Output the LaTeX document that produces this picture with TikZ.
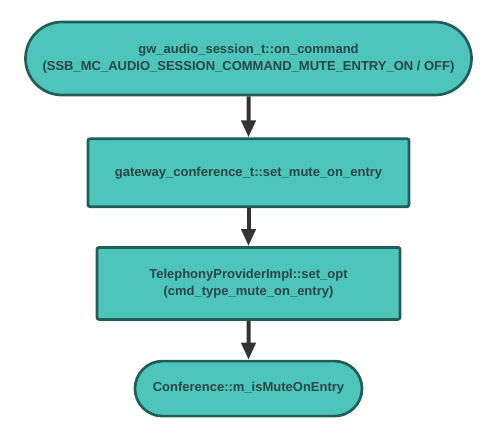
\documentclass[tikz,border=0pt]{standalone}
\usepackage{fontspec}
\setmainfont{Liberation Sans}
\usetikzlibrary{arrows.meta, positioning, shapes, shapes.misc}
\definecolor{boxfill}{HTML}{4EC5BA}
\definecolor{boxline}{HTML}{225E59}
\definecolor{boxtext}{HTML}{2A4746}
\definecolor{flowline}{HTML}{333333}
\tikzset{
    flowbox/.style={
        draw=boxline, fill=boxfill, line width=2.7pt, rounded corners=2pt,
        text=boxtext, font=\bfseries\fontsize{13}{16.5}\selectfont, align=center,
        inner sep=0pt
    },
    flowend/.style={
        flowbox, rounded rectangle, rounded corners=0pt
    },
    flowarrow/.style={
        draw=flowline, line width=4pt,
        -{Triangle[length=17pt, width=14pt]}
    }
}
\begin{document}
\begin{tikzpicture}[node distance=41pt]
    \useasboundingbox (0,0) rectangle (500pt,-436pt);
    \node[flowend, minimum width=446pt, minimum height=73pt] (oncmd) at (248.5pt,-58.5pt)
        {gw\_audio\_session\_t::on\_command\\(SSB\_MC\_AUDIO\_SESSION\_COMMAND\_MUTE\_ENTRY\_ON / OFF)};
    \node[flowbox, minimum width=321pt, minimum height=68pt, below=of oncmd] (setmute)
        {gateway\_conference\_t::set\_mute\_on\_entry};
    \node[flowbox, minimum width=303pt, minimum height=72pt, below=38pt of setmute] (setopt)
        {TelephonyProviderImpl::set\_opt\\(cmd\_type\_mute\_on\_entry)};
    \node[flowend, minimum width=227pt, minimum height=55pt, below=39pt of setopt] (ismute)
        {Conference::m\_isMuteOnEntry};
    % connectors
    \draw[flowarrow] (oncmd) -- (setmute);
    \draw[flowarrow] (setmute) -- (setopt);
    \draw[flowarrow] (setopt) -- (ismute);
\end{tikzpicture}
\end{document}
